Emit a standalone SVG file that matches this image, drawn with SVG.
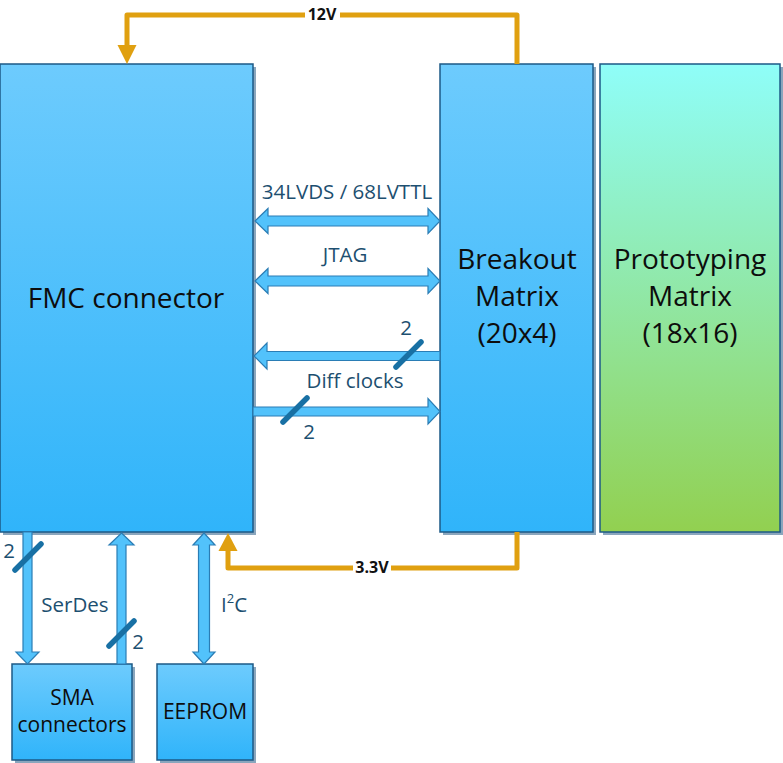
<svg xmlns="http://www.w3.org/2000/svg" width="783" height="763" viewBox="0 0 783 763">
<defs>
<linearGradient id="gBlue" x1="0" y1="0" x2="0" y2="1">
<stop offset="0" stop-color="#6dcbfd"/>
<stop offset="1" stop-color="#30b4fa"/>
</linearGradient>
<linearGradient id="gProto" x1="0" y1="0" x2="0" y2="1">
<stop offset="0" stop-color="#8ffef9"/>
<stop offset="1" stop-color="#92d050"/>
</linearGradient>
<style>
.box{stroke:#1d5a86;stroke-width:1.5}
.shadow{fill:#8aa6bd}
.title{font-family:"Open Sans","Noto Sans",sans-serif;font-size:28px;fill:#0d0d0d;text-anchor:middle}
.small{font-family:"Open Sans","Noto Sans",sans-serif;font-size:21px;fill:#0d0d0d;text-anchor:middle}
.lbl{font-family:"Open Sans","Noto Sans",sans-serif;font-size:20.5px;fill:#1d4f70;text-anchor:middle}
.pw{font-family:"Open Sans","Noto Sans",sans-serif;font-size:16px;font-weight:bold;fill:#111;text-anchor:middle}
.barrow{fill:#52c2fb;stroke:#2a7db5;stroke-width:1.2;stroke-linejoin:miter}
.slash{stroke:#1870a4;stroke-width:5.5;stroke-linecap:round}
.power{fill:none;stroke:#e0a010;stroke-width:5;stroke-linejoin:round}
.powhead{fill:#e0a010}
</style>
</defs>
<g id="fmc">
<rect class="shadow" x="3" y="67" width="253" height="468"/>
<rect class="box" x="0" y="64" width="253" height="468" fill="url(#gBlue)"/>
<text class="title" x="126" y="308">FMC connector</text>
</g>
<g id="breakout">
<rect class="shadow" x="443" y="67" width="153" height="468"/>
<rect class="box" x="440" y="64" width="153" height="468" fill="url(#gBlue)"/>
<text class="title" x="517" y="269">Breakout</text>
<text class="title" x="517" y="306">Matrix</text>
<text class="title" x="517" y="343">(20x4)</text>
</g>
<g id="proto">
<rect class="shadow" x="603" y="67" width="180" height="468"/>
<rect class="box" x="600" y="64" width="180" height="468" fill="url(#gProto)"/>
<text class="title" x="690" y="269">Prototyping</text>
<text class="title" x="690" y="306">Matrix</text>
<text class="title" x="690" y="343">(18x16)</text>
</g>
<g id="sma">
<rect class="shadow" x="15" y="667" width="120" height="96"/>
<rect class="box" x="12" y="664" width="120" height="96" fill="url(#gBlue)"/>
<text class="small" x="72" y="705">SMA</text>
<text class="small" x="72" y="732">connectors</text>
</g>
<g id="eeprom">
<rect class="shadow" x="160" y="667" width="96" height="96"/>
<rect class="box" x="157" y="664" width="96" height="96" fill="url(#gBlue)"/>
<text class="small" x="205" y="719">EEPROM</text>
</g>
<g id="connectors">
<path class="barrow" d="M255,221 L268,208.5 L268,216 L428,216 L428,208.5 L440,221 L428,233.5 L428,226 L268,226 L268,233.5 Z"/>
<text class="lbl" x="347" y="199">34LVDS / 68LVTTL</text>
<path class="barrow" d="M255,281 L268,268.5 L268,276 L428,276 L428,268.5 L440,281 L428,293.5 L428,286 L268,286 L268,293.5 Z"/>
<text class="lbl" x="345" y="262">JTAG</text>
<path class="barrow" d="M254,356 L267,343 L267,351.5 L440,351.5 L440,360.5 L267,360.5 L267,369 Z"/>
<line class="slash" x1="396" y1="367" x2="421" y2="342"/>
<text class="lbl" x="406" y="335">2</text>
<text class="lbl" x="355" y="388">Diff clocks</text>
<path class="barrow" d="M253,407 L428,407 L428,398.5 L440,411.5 L428,424 L428,416 L253,416 Z"/>
<line class="slash" x1="283" y1="422" x2="307" y2="398"/>
<text class="lbl" x="309" y="439">2</text>
<path class="barrow" d="M23,532 L32,532 L32,652 L39,652 L27.5,664 L16,652 L23,652 Z"/>
<line class="slash" x1="15" y1="570" x2="41" y2="544"/>
<text class="lbl" x="9" y="558">2</text>
<path class="barrow" d="M121.5,533 L134,545 L126,545 L126,664 L117,664 L117,545 L109,545 Z"/>
<line class="slash" x1="109" y1="646" x2="134" y2="621"/>
<text class="lbl" x="138" y="649">2</text>
<text class="lbl" x="75" y="612">SerDes</text>
<path class="barrow" d="M204,533 L215,545 L209.5,545 L209.5,652 L215,652 L204,664 L193,652 L198.5,652 L198.5,545 L193,545 Z"/>
<text class="lbl" x="234" y="612">I<tspan font-size="13" dy="-9">2</tspan><tspan dy="9">C</tspan></text>
<path class="power" d="M517,64 L517,15 L127,15 L127,48"/>
<polygon class="powhead" points="117.5,45 136.5,45 127,64"/>
<rect x="305" y="6" width="35" height="18" fill="#fff"/>
<text class="pw" x="322" y="20">12V</text>
<path class="power" d="M517,532 L517,568 L228,568 L228,550"/>
<polygon class="powhead" points="218.5,551 237.5,551 228,533"/>
<rect x="353" y="559" width="38" height="18" fill="#fff"/>
<text class="pw" x="372" y="573">3.3V</text>
</g>
</svg>
